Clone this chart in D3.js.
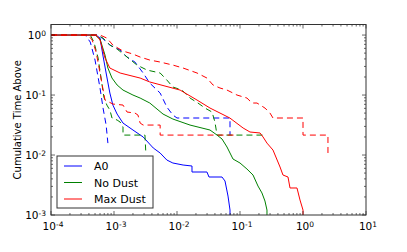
<!DOCTYPE html>
<html>
<head>
<meta charset="utf-8">
<script src="https://cdn.jsdelivr.net/npm/d3@7"></script>
<style>
  body { margin: 0; background: #fff; }
  text { font-family: "DejaVu Sans", sans-serif; }
</style>
</head>
<body>
<div id="chart"></div>
<script>
// series: [time, cumulative fraction above]
const a0Solid = [[1e-4,1],[5.2e-4,1],[6.0e-4,0.891],[6.7e-4,0.447],[7.7e-4,0.2],[8.6e-4,0.108],[9.6e-4,0.0681],[1.12e-3,0.0482],[1.39e-3,0.0341],[2.0e-3,0.0261],[2.9e-3,0.02],[4.2e-3,0.0131],[5.4e-3,0.0108],[6.9e-3,0.00825],[8.6e-3,0.00736],[0.0125,0.00681],[0.0173,0.00656],[0.0173,0.00521],[0.0299,0.00521],[0.0322,0.0043],[0.0518,0.0043],[0.0578,0.00369],[0.0645,0.00207],[0.0694,0.00121],[0.0694,0.0008]];
const a0DashA = [[1e-4,1],[3.5e-4,1],[4.2e-4,0.764],[5.0e-4,0.383],[6.0e-4,0.131],[6.7e-4,0.0607],[7.5e-4,0.0316],[8.0e-4,0.0158]];
const a0DashB = [[1e-4,1],[5.4e-4,1],[6.5e-4,0.891],[8.6e-4,0.681],[1.25e-3,0.562],[1.61e-3,0.43],[2.15e-3,0.355],[2.9e-3,0.233],[3.7e-3,0.158],[5.4e-3,0.108],[6.9e-3,0.0631],[8.6e-3,0.0464],[0.01,0.0414],[0.0694,0.0414],[0.0694,0.0215]];

const noDustSolid = [[1e-4,1],[5.0e-4,1],[6.0e-4,0.858],[7.2e-4,0.464],[8.0e-4,0.282],[9.3e-4,0.192],[1.12e-3,0.147],[1.39e-3,0.121],[2.0e-3,0.1],[2.6e-3,0.0891],[3.7e-3,0.0736],[6.0e-3,0.0482],[8.6e-3,0.0398],[0.0161,0.0316],[0.0334,0.0261],[0.0432,0.0215],[0.0518,0.0185],[0.0622,0.0136],[0.0774,0.00858],[0.1,0.00736],[0.129,0.00584],[0.161,0.00464],[0.193,0.00304],[0.223,0.00233],[0.249,0.00171],[0.268,0.00121],[0.268,0.0008]];
const noDustDashA = [[1e-4,1],[4.2e-4,1],[4.8e-4,0.764],[5.6e-4,0.414],[6.2e-4,0.2],[6.9e-4,0.0926],[7.7e-4,0.0681],[8.6e-4,0.0562],[9.3e-4,0.0414],[1.12e-3,0.0383],[1.25e-3,0.0355],[1.39e-3,0.0293],[1.39e-3,0.0215],[3.1e-3,0.0215],[3.2e-3,0.0108]];
const noDustDashB = [[1e-4,1],[5.4e-4,1],[6.7e-4,0.891],[8.6e-4,0.681],[1.12e-3,0.584],[1.61e-3,0.43],[2.32e-3,0.316],[3.34e-3,0.261],[5.4e-3,0.233],[6.9e-3,0.178],[8.6e-3,0.136],[0.012,0.121],[0.0161,0.0891],[0.0215,0.0736],[0.0278,0.0607],[0.036,0.0521],[0.04,0.0355],[0.0432,0.0215],[0.249,0.0215]];

const maxDustSolid = [[1e-4,1],[5.2e-4,1],[6.0e-4,0.825],[7.2e-4,0.414],[8.6e-4,0.282],[1.25e-3,0.233],[2.6e-3,0.192],[3.7e-3,0.165],[0.0112,0.121],[0.0208,0.0825],[0.0334,0.0607],[0.069,0.0414],[0.112,0.0282],[0.144,0.0242],[0.208,0.0233],[0.232,0.02],[0.268,0.0158],[0.334,0.0121],[0.432,0.00631],[0.481,0.00464],[0.578,0.0043],[0.622,0.00282],[0.803,0.00282],[0.896,0.00178],[1.0,0.00121],[1.0,0.0008]];
const maxDustDashA = [[1e-4,1],[3.9e-4,1],[4.5e-4,0.825],[5.2e-4,0.521],[5.8e-4,0.282],[6.5e-4,0.147],[7.2e-4,0.0825],[9.6e-4,0.0708],[1.39e-3,0.0681],[1.61e-3,0.0521],[2.15e-3,0.0501],[2.4e-3,0.0464],[2.6e-3,0.0341],[2.9e-3,0.0316],[5.4e-3,0.0316],[5.4e-3,0.0215],[0.0833,0.0215]];
const maxDustDashB = [[1e-4,1],[6.0e-4,1],[7.7e-4,0.891],[9.6e-4,0.681],[1.39e-3,0.541],[2.0e-3,0.482],[2.6e-3,0.43],[3.7e-3,0.383],[5.4e-3,0.355],[8.6e-3,0.316],[0.0125,0.282],[0.0208,0.233],[0.0299,0.192],[0.0373,0.147],[0.0481,0.131],[0.0622,0.121],[0.0896,0.1],[0.129,0.0891],[0.155,0.0736],[0.186,0.0736],[0.249,0.0607],[0.299,0.0501],[0.334,0.0414],[1.0,0.0414],[1.0,0.0215],[2.49,0.0215],[2.49,0.0108]];

const seriesNames = ["A0", "No Dust", "Max Dust"];
const seriesColors = ["#0000ff", "#008000", "#ff0000"];
const xDecades = [-4, -3, -2, -1, 0, 1];
const yDecades = [-3, -2, -1, 0];

const series = [
  { name: seriesNames[0], color: seriesColors[0], solid: a0Solid, dashed: [a0DashA, a0DashB] },
  { name: seriesNames[1], color: seriesColors[1], solid: noDustSolid, dashed: [noDustDashA, noDustDashB] },
  { name: seriesNames[2], color: seriesColors[2], solid: maxDustSolid, dashed: [maxDustDashA, maxDustDashB] }
];

const W = 407, H = 252;
const margin = { top: 24.5, right: 41, bottom: 37, left: 51 };
const width = W - margin.left - margin.right;
const height = H - margin.top - margin.bottom;

const svg = d3.select("#chart").append("svg")
  .attr("width", W).attr("height", H);

const g = svg.append("g")
  .attr("transform", `translate(${margin.left},${margin.top})`);

const x = d3.scaleLog().domain([1e-4, 10]).range([0, width]);
const y = d3.scaleLog().domain([1e-3, 1.5]).range([height, 0]);

g.append("clipPath").attr("id", "clip")
  .append("rect").attr("width", width).attr("height", height);

const line = d3.line().x(d => x(d[0])).y(d => y(d[1]));

const plot = g.append("g").attr("clip-path", "url(#clip)");
series.forEach(s => {
  plot.append("path").datum(s.solid)
    .attr("d", line).attr("fill", "none")
    .attr("stroke", s.color).attr("stroke-width", 1);
  s.dashed.forEach(dd => {
    plot.append("path").datum(dd)
      .attr("d", line).attr("fill", "none")
      .attr("stroke", s.color).attr("stroke-width", 1)
      .attr("stroke-dasharray", "6,4");
  });
});

// minor tick values (2..9 x 10^e)
function minors(lo, hi) {
  const out = [];
  for (let e = lo; e < hi; e++) for (let m = 2; m <= 9; m++) out.push(m * Math.pow(10, e));
  return out;
}
const xMinor = minors(-4, 1);
const yMinor = minors(-3, 0);

const ticks = g.append("g").attr("stroke", "#000").attr("stroke-width", 0.6);
xDecades.forEach(e => {
  const px = x(Math.pow(10, e));
  ticks.append("line").attr("x1", px).attr("x2", px).attr("y1", height).attr("y2", height - 4);
  ticks.append("line").attr("x1", px).attr("x2", px).attr("y1", 0).attr("y2", 4);
});
xMinor.forEach(v => {
  const px = x(v);
  ticks.append("line").attr("x1", px).attr("x2", px).attr("y1", height).attr("y2", height - 2);
  ticks.append("line").attr("x1", px).attr("x2", px).attr("y1", 0).attr("y2", 2);
});
yDecades.forEach(e => {
  const py = y(Math.pow(10, e));
  ticks.append("line").attr("x1", 0).attr("x2", 4).attr("y1", py).attr("y2", py);
  ticks.append("line").attr("x1", width).attr("x2", width - 4).attr("y1", py).attr("y2", py);
});
yMinor.forEach(v => {
  const py = y(v);
  ticks.append("line").attr("x1", 0).attr("x2", 2).attr("y1", py).attr("y2", py);
  ticks.append("line").attr("x1", width).attr("x2", width - 2).attr("y1", py).attr("y2", py);
});

// frame
g.append("rect").attr("width", width).attr("height", height)
  .attr("fill", "none").attr("stroke", "#333").attr("stroke-width", 1);

// tick labels with superscript exponents
function powLabel(sel, e) {
  sel.append("tspan").text("10");
  sel.append("tspan").attr("dy", "-0.45em").attr("font-size", "7.5px")
    .text(e < 0 ? "-" + (-e) : String(e));
}
xDecades.forEach(e => {
  const t = g.append("text").attr("x", x(Math.pow(10, e)) + 2).attr("y", height + 15)
    .attr("text-anchor", "middle").attr("font-size", "10.5px").attr("fill", "#000");
  powLabel(t, e);
});
yDecades.forEach(e => {
  const t = g.append("text").attr("x", -5).attr("y", y(Math.pow(10, e)) + 4)
    .attr("text-anchor", "end").attr("font-size", "10.5px").attr("fill", "#000");
  powLabel(t, e);
});

svg.append("text")
  .attr("transform", `translate(21,${margin.top + height / 2}) rotate(-90)`)
  .attr("text-anchor", "middle").attr("font-size", "10px").attr("fill", "#000")
  .text("Cumulative Time Above");

// legend
const leg = svg.append("g").attr("transform", "translate(57,156)");
leg.append("rect").attr("width", 96).attr("height", 52)
  .attr("fill", "#fff").attr("stroke", "#333").attr("stroke-width", 1);
series.forEach((s, i) => {
  const ly = 10 + i * 16.5;
  leg.append("line").attr("x1", 7).attr("x2", 25).attr("y1", ly).attr("y2", ly)
    .attr("stroke", s.color).attr("stroke-width", 1);
  leg.append("text").attr("x", 37).attr("y", ly + 4)
    .attr("font-size", "11px").attr("fill", "#000").text(s.name);
});
</script>
</body>
</html>
